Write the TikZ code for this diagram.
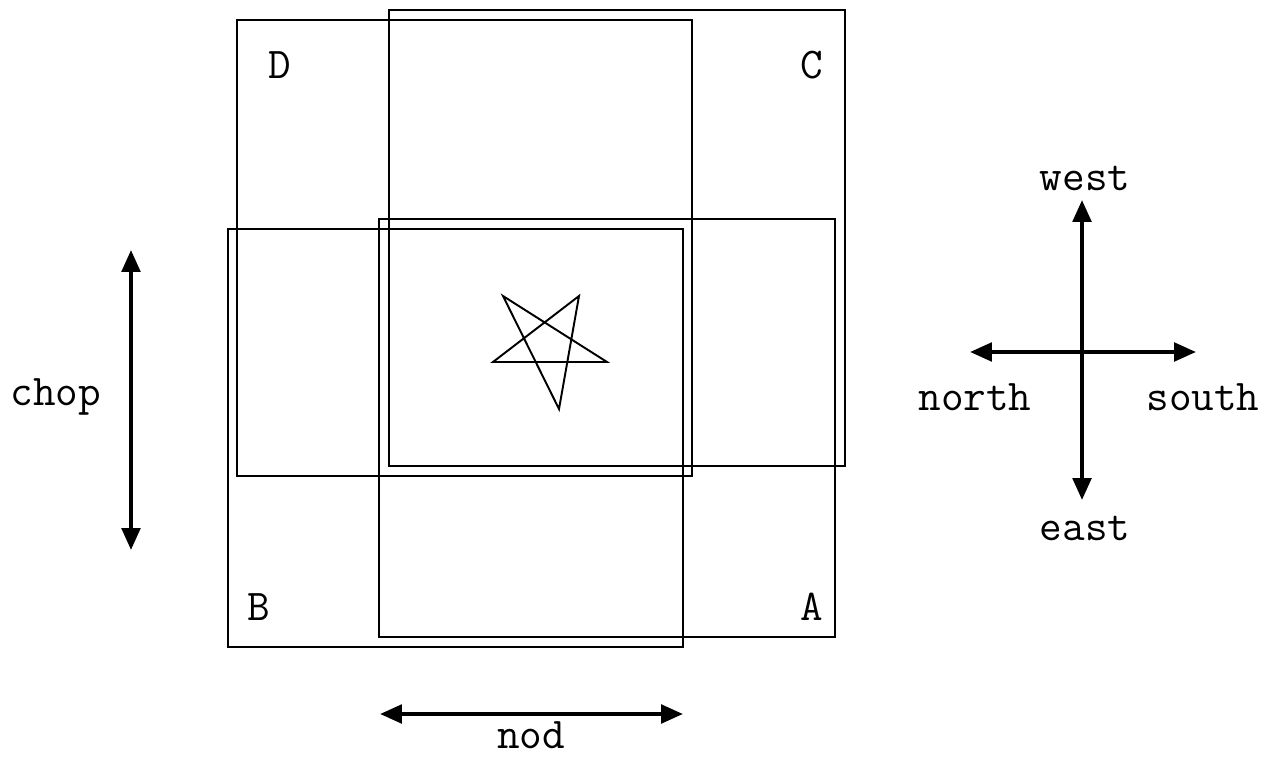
\documentclass[tikz,border=0pt]{standalone}
\usetikzlibrary{arrows.meta}
\tikzset{
    box/.style={line width=1.1pt},
    dir/.style={line width=2.3pt,{Triangle[length=12.5pt,width=10.5pt]}-{Triangle[length=12.5pt,width=10.5pt]}},
    lbl/.style={font=\fontsize{25}{25}\selectfont\ttfamily,inner sep=0pt}
}
\begin{document}
\begin{tikzpicture}
            \useasboundingbox (0,0) rectangle (25.64,15.12);
            % the four boxes
            \draw [box] (4.74,14.72) rectangle (13.84,5.6);
            \draw [box] (7.78,14.92) rectangle (16.9,5.8);
            \draw [box] (4.56,10.54) rectangle (13.66,2.18);
            \draw [box] (7.58,10.74) rectangle (16.7,2.38);
            \node [lbl] (D) at(5.6,13.82) {D};
            \node [lbl] (C) at(16.24,13.82) {C};
            \node [lbl] (B) at(5.18,2.98) {B};
            \node [lbl] (A) at(16.24,2.98) {A};

            % star
            \coordinate (s1) at(10.06,9.2);
            \coordinate (s2) at(11.18,6.94);
            \coordinate (s3) at(11.58,9.2);
            \coordinate (s4) at(9.86,7.88);
            \coordinate (s5) at(12.14,7.88);
            \draw [box,line join=miter] (s1)--(s2)--(s3)--(s4)--(s5)--cycle;

            % chop and nod
            \coordinate (ch1) at(2.62,10.12);
            \coordinate (ch2) at(2.62,4.12);
            \draw [dir] (ch1)--(ch2);
            \node [lbl] (chop) at(1.12,7.18) {chop};
            \coordinate (nd1) at(7.6,0.84);
            \coordinate (nd2) at(13.66,0.84);
            \draw [dir] (nd1)--(nd2);
            \node [lbl] (nod) at(10.62,0.42) {nod};

            % compass
            \node [lbl] (west) at(21.7,11.56) {west};
            \node [lbl] (east) at(21.7,4.56) {east};
            \node [lbl] (north) at(19.5,7.18) {north};
            \node [lbl] (south) at(24.06,7.18) {south};
            \coordinate (cw) at(21.64,11.12);
            \coordinate (ce) at(21.64,5.12);
            \coordinate (cn) at(19.4,8.08);
            \coordinate (cs) at(23.92,8.08);
            \draw [dir] (cw)--(ce);
            \draw [dir] (cn)--(cs);
\end{tikzpicture}
\end{document}
